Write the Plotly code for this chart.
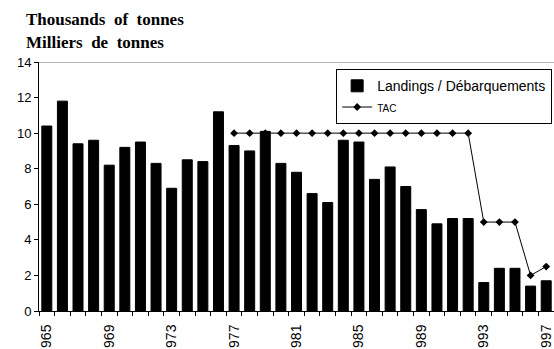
import plotly.graph_objects as go

# Annual landings (thousand tonnes), 1965-1997
years = list(range(1965, 1998))
landings = [10.4, 11.8, 9.4, 9.6, 8.2, 9.2, 9.5, 8.3, 6.9, 8.5, 8.4, 11.2,
            9.3, 9.0, 10.1, 8.3, 7.8, 6.6, 6.1, 9.6, 9.5, 7.4, 8.1, 7.0,
            5.7, 4.9, 5.2, 5.2, 1.6, 2.4, 2.4, 1.4, 1.7]

# Total allowable catch, set from 1977 onwards
tac_years = list(range(1977, 1998))
tac = [10, 10, 10, 10, 10, 10, 10, 10, 10, 10, 10, 10, 10, 10, 10, 10,
       5, 5, 5, 2, 2.5]

# Year labels every four years, printed with the last three digits
label_years = list(range(1965, 1998, 4))
label_text = ["965", "969", "973", "977", "981", "985", "989", "993", "997"]

fig = go.Figure()
fig.add_trace(go.Bar(
    x=years, y=landings, name="Landings / Débarquements",
    marker=dict(color="black", line=dict(color="black", width=1)),
))
fig.add_trace(go.Scatter(
    x=tac_years, y=tac, mode="lines+markers",
    name='<span style="font-size:10px">TAC</span>',
    line=dict(color="black", width=1),
    marker=dict(symbol="diamond", size=6, color="black"),
))

fig.update_layout(
    width=554, height=349,
    margin=dict(l=39, r=0, t=62, b=38, autoexpand=False),
    paper_bgcolor="white", plot_bgcolor="white",
    bargap=0.36,
    font=dict(family="Liberation Sans, Arial, sans-serif", color="black"),
    showlegend=True,
    legend=dict(
        x=0.577, y=0.971, xanchor="left", yanchor="top",
        bgcolor="white", bordercolor="black", borderwidth=1,
        font=dict(size=14),
        tracegroupgap=4,
    ),
    xaxis=dict(
        range=[1964.5, 1997.5], automargin=False,
        tickmode="array", tickvals=label_years, ticktext=label_text,
        tickangle=-90, tickfont=dict(size=14),
        ticks="outside", ticklen=4, tickcolor="rgba(0,0,0,0)",
        ticklabelstandoff=3,
        minor=dict(tick0=1964.5, dtick=1, ticks="outside", ticklen=4,
                   tickcolor="black"),
        showline=True, linecolor="black", linewidth=1,
        showgrid=False, zeroline=False,
    ),
    yaxis=dict(
        range=[0, 14], dtick=2, tickfont=dict(size=13), automargin=False,
        ticks="outside", ticklen=4, tickcolor="black",
        showline=True, linecolor="black", linewidth=1,
        showgrid=False, zeroline=False,
    ),
    shapes=[dict(type="line", xref="paper", yref="y", x0=0, x1=1, y0=14, y1=14,
                 line=dict(color="#707070", width=1))],
    annotations=[
        dict(text="<b>Thousands  of  tonnes</b>", xref="paper", yref="paper",
             x=-0.03, y=1.17, xanchor="left", yanchor="middle", showarrow=False,
             font=dict(family="Liberation Serif, Times New Roman, serif", size=17)),
        dict(text="<b>Milliers  de  tonnes</b>", xref="paper", yref="paper",
             x=-0.03, y=1.077, xanchor="left", yanchor="middle", showarrow=False,
             font=dict(family="Liberation Serif, Times New Roman, serif", size=17)),
    ],
)

fig.write_html("out.html")
